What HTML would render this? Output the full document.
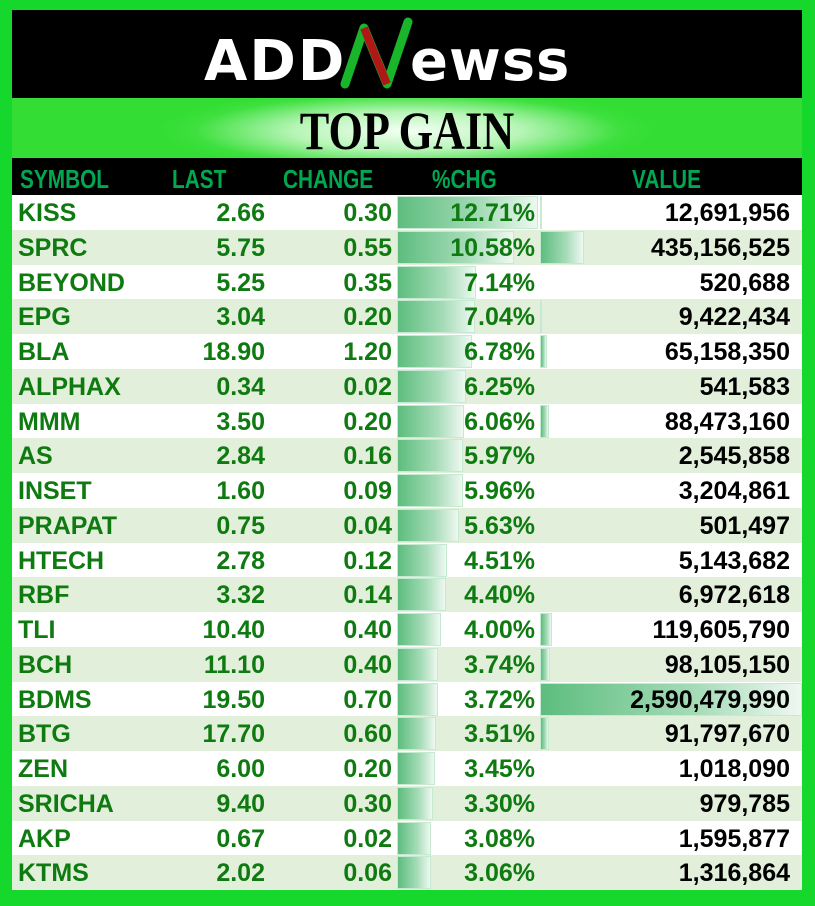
<!DOCTYPE html>
<html><head><meta charset="utf-8"><style>
*{margin:0;padding:0;box-sizing:border-box}
body{width:815px;height:906px;background:#16d72c;position:relative;overflow:hidden;font-family:"Liberation Sans",sans-serif}
.top{position:absolute;left:12px;top:10px;width:790px;height:88px;background:#000}
.band{position:absolute;left:12px;top:98px;width:790px;height:60px;background:radial-gradient(ellipse 250px 42px at 50% 55%,#f4fff4 0%,#b8f5b8 45%,#3ee03e 85%,#33dd33 100%)}
.band div{position:absolute;left:0;width:100%;top:3px;text-align:center;font-family:"Liberation Serif",serif;font-weight:bold;font-size:54px;line-height:60px;color:#000;transform:scaleX(0.82)}
.hdr{position:absolute;left:12px;top:158px;width:790px;height:37px;background:#000;color:#00a850;font-weight:bold;font-size:26px;line-height:43px}
.hdr span{position:absolute;transform:scaleX(0.8);transform-origin:left}
.r{position:absolute;left:12px;width:790px;height:35px;font-weight:bold;font-size:25px;line-height:36px;color:#0e7a10}
.r.a{background:#fff}.r.b{background:#e2efda}
.r span{position:absolute;top:0}
.s{left:6px}.l{right:537px}.c{right:410px}.p{right:267px}.v{right:12px;color:#000}
.b1,.b2{position:absolute;top:1px;height:33px;background:linear-gradient(to right,#5dbd7e,#a6dcb8 60%,#eef8f1);border:1px solid #c6e9d2}
.b1{left:385px}.b2{left:528px}
</style></head><body>
<div class="top">
<svg width="790" height="88" viewBox="0 0 790 88">
<text x="192" y="70" font-family="DejaVu Sans" font-weight="bold" font-size="56" fill="#fff" letter-spacing="2">ADD</text>
<path d="M333 74 L352 18 L375 74 L396 12" stroke="#19b52a" stroke-width="9" fill="none" stroke-linecap="round" stroke-linejoin="round"/>
<path d="M352 18 L375 74" stroke="#b01818" stroke-width="8" fill="none"/>
<text x="398" y="70" font-family="DejaVu Sans" font-weight="bold" font-size="56" fill="#fff" letter-spacing="1">ewss</text>
</svg>
</div>
<div class="band"><div>TOP GAIN</div></div>
<div class="hdr"><span style="left:8px">SYMBOL</span><span style="left:160px">LAST</span><span style="left:271px">CHANGE</span><span style="left:420px">%CHG</span><span style="left:620px">VALUE</span></div>

<div class="r a" style="top:195px"><i class="b1" style="width:141px"></i><i class="b2" style="width:2px"></i><span class="s">KISS</span><span class="l">2.66</span><span class="c">0.30</span><span class="p">12.71%</span><span class="v">12,691,956</span></div>
<div class="r b" style="top:229.75px"><i class="b1" style="width:117px"></i><i class="b2" style="width:44px"></i><span class="s">SPRC</span><span class="l">5.75</span><span class="c">0.55</span><span class="p">10.58%</span><span class="v">435,156,525</span></div>
<div class="r a" style="top:264.5px"><i class="b1" style="width:79px"></i><span class="s">BEYOND</span><span class="l">5.25</span><span class="c">0.35</span><span class="p">7.14%</span><span class="v">520,688</span></div>
<div class="r b" style="top:299.25px"><i class="b1" style="width:78px"></i><i class="b2" style="width:2px"></i><span class="s">EPG</span><span class="l">3.04</span><span class="c">0.20</span><span class="p">7.04%</span><span class="v">9,422,434</span></div>
<div class="r a" style="top:334px"><i class="b1" style="width:75px"></i><i class="b2" style="width:7px"></i><span class="s">BLA</span><span class="l">18.90</span><span class="c">1.20</span><span class="p">6.78%</span><span class="v">65,158,350</span></div>
<div class="r b" style="top:368.75px"><i class="b1" style="width:69px"></i><span class="s">ALPHAX</span><span class="l">0.34</span><span class="c">0.02</span><span class="p">6.25%</span><span class="v">541,583</span></div>
<div class="r a" style="top:403.5px"><i class="b1" style="width:67px"></i><i class="b2" style="width:9px"></i><span class="s">MMM</span><span class="l">3.50</span><span class="c">0.20</span><span class="p">6.06%</span><span class="v">88,473,160</span></div>
<div class="r b" style="top:438.25px"><i class="b1" style="width:66px"></i><span class="s">AS</span><span class="l">2.84</span><span class="c">0.16</span><span class="p">5.97%</span><span class="v">2,545,858</span></div>
<div class="r a" style="top:473px"><i class="b1" style="width:66px"></i><span class="s">INSET</span><span class="l">1.60</span><span class="c">0.09</span><span class="p">5.96%</span><span class="v">3,204,861</span></div>
<div class="r b" style="top:507.75px"><i class="b1" style="width:62px"></i><span class="s">PRAPAT</span><span class="l">0.75</span><span class="c">0.04</span><span class="p">5.63%</span><span class="v">501,497</span></div>
<div class="r a" style="top:542.5px"><i class="b1" style="width:50px"></i><span class="s">HTECH</span><span class="l">2.78</span><span class="c">0.12</span><span class="p">4.51%</span><span class="v">5,143,682</span></div>
<div class="r b" style="top:577.25px"><i class="b1" style="width:49px"></i><span class="s">RBF</span><span class="l">3.32</span><span class="c">0.14</span><span class="p">4.40%</span><span class="v">6,972,618</span></div>
<div class="r a" style="top:612px"><i class="b1" style="width:44px"></i><i class="b2" style="width:12px"></i><span class="s">TLI</span><span class="l">10.40</span><span class="c">0.40</span><span class="p">4.00%</span><span class="v">119,605,790</span></div>
<div class="r b" style="top:646.75px"><i class="b1" style="width:41px"></i><i class="b2" style="width:10px"></i><span class="s">BCH</span><span class="l">11.10</span><span class="c">0.40</span><span class="p">3.74%</span><span class="v">98,105,150</span></div>
<div class="r a" style="top:681.5px"><i class="b1" style="width:41px"></i><i class="b2" style="width:262px"></i><span class="s">BDMS</span><span class="l">19.50</span><span class="c">0.70</span><span class="p">3.72%</span><span class="v">2,590,479,990</span></div>
<div class="r b" style="top:716.25px"><i class="b1" style="width:39px"></i><i class="b2" style="width:9px"></i><span class="s">BTG</span><span class="l">17.70</span><span class="c">0.60</span><span class="p">3.51%</span><span class="v">91,797,670</span></div>
<div class="r a" style="top:751px"><i class="b1" style="width:38px"></i><span class="s">ZEN</span><span class="l">6.00</span><span class="c">0.20</span><span class="p">3.45%</span><span class="v">1,018,090</span></div>
<div class="r b" style="top:785.75px"><i class="b1" style="width:36px"></i><span class="s">SRICHA</span><span class="l">9.40</span><span class="c">0.30</span><span class="p">3.30%</span><span class="v">979,785</span></div>
<div class="r a" style="top:820.5px"><i class="b1" style="width:34px"></i><span class="s">AKP</span><span class="l">0.67</span><span class="c">0.02</span><span class="p">3.08%</span><span class="v">1,595,877</span></div>
<div class="r b" style="top:855.25px"><i class="b1" style="width:34px"></i><span class="s">KTMS</span><span class="l">2.02</span><span class="c">0.06</span><span class="p">3.06%</span><span class="v">1,316,864</span></div>
</body></html>
